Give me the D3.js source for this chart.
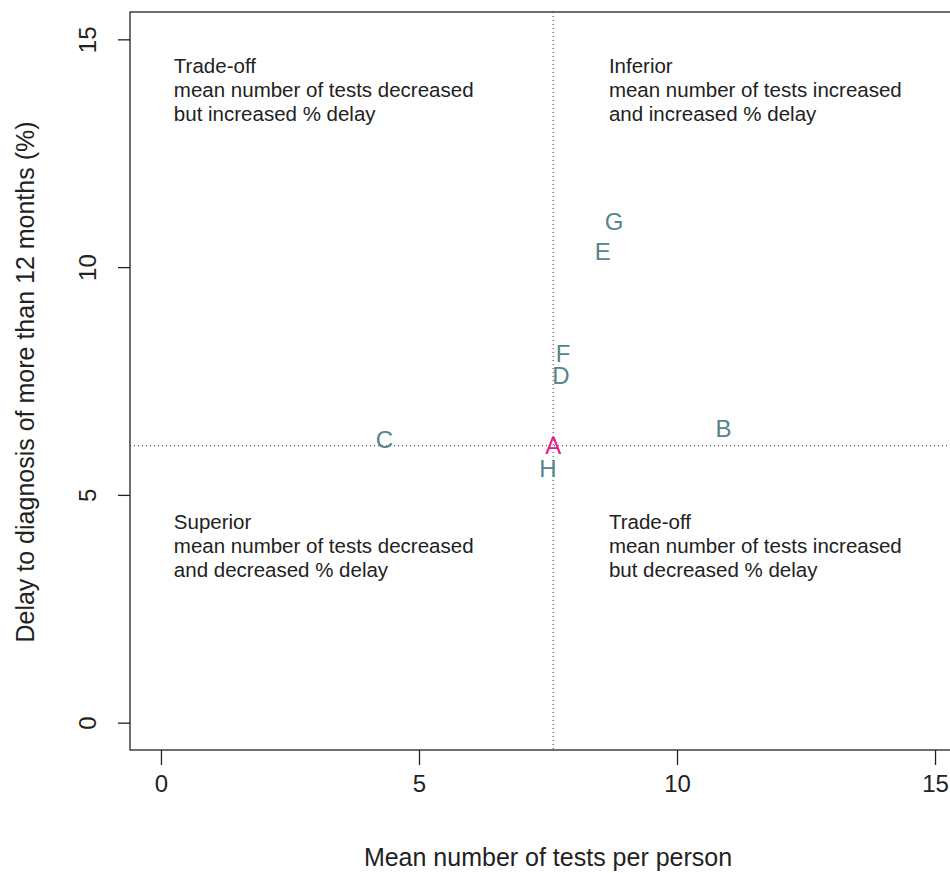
<!DOCTYPE html>
<html>
<head>
<meta charset="utf-8">
<script src="https://cdn.jsdelivr.net/npm/d3@7"></script>
<style>
 body { margin: 0; background: #fff; }
 text { font-family: "Liberation Sans", Arial, sans-serif; fill: #222; }
</style>
</head>
<body>
<svg width="950" height="873"></svg>
<script>
// The svg
var svg = d3.select("svg"),
    width = +svg.attr("width"),
    height = +svg.attr("height");

// Data
var labels = ["A", "B", "C", "D", "E", "F", "G", "H"];
var meanTests = [7.6, 10.9, 4.33, 7.75, 8.56, 7.79, 8.78, 7.5];
var delayPct = [6.08, 6.46, 6.21, 7.61, 10.35, 8.1, 11.0, 5.58];
var xTicks = [0, 5, 10, 15];
var yTicks = [0, 5, 10, 15];
var quadrants = [
  {x: 0.25, y: 14.27, lines: ["Trade-off", "mean number of tests decreased", "but increased % delay"]},
  {x: 8.68, y: 14.27, lines: ["Inferior", "mean number of tests increased", "and increased % delay"]},
  {x: 0.25, y: 4.25, lines: ["Superior", "mean number of tests decreased", "and decreased % delay"]},
  {x: 8.68, y: 4.25, lines: ["Trade-off", "mean number of tests increased", "but decreased % delay"]}
];

// plot region (R style, 4% padding)
var plotL = 130, plotR = 966, plotT = 12, plotB = 750;
var x = d3.scaleLinear().domain([-0.6, 15.6]).range([plotL, plotR]);
var y = d3.scaleLinear().domain([-0.6, 15.6]).range([plotB, plotT]);

// box
svg.append("rect")
  .attr("x", plotL).attr("y", plotT)
  .attr("width", plotR - plotL).attr("height", plotB - plotT)
  .attr("fill", "none").attr("stroke", "#222").attr("stroke-width", 1.3);

// reference lines through A
svg.append("line")
  .attr("x1", x(meanTests[0])).attr("x2", x(meanTests[0]))
  .attr("y1", plotT).attr("y2", plotB)
  .attr("stroke", "#333").attr("stroke-dasharray", "1,3");
svg.append("line")
  .attr("x1", plotL).attr("x2", plotR)
  .attr("y1", y(delayPct[0])).attr("y2", y(delayPct[0]))
  .attr("stroke", "#333").attr("stroke-dasharray", "1,3");

// axes
var xAxis = svg.append("g")
  .attr("transform", "translate(0," + plotB + ")")
  .call(d3.axisBottom(x).tickValues(xTicks).tickSize(15).tickPadding(10));
var yAxis = svg.append("g")
  .attr("transform", "translate(" + plotL + ",0)")
  .call(d3.axisLeft(y).tickValues(yTicks).tickSize(12));
[xAxis, yAxis].forEach(function(g) {
  g.select(".domain").remove();
  g.selectAll(".tick line").attr("stroke", "#222").attr("stroke-width", 1.3);
  g.selectAll(".tick text").style("font-size", "24px").attr("fill", "#222");
});
yAxis.selectAll(".tick text")
  .attr("x", null).attr("dy", null)
  .attr("text-anchor", "middle")
  .attr("transform", "translate(-40,0) rotate(-90)")
  .attr("dominant-baseline", "middle");

// axis titles
svg.append("text")
  .attr("x", 548).attr("y", 866)
  .attr("text-anchor", "middle")
  .style("font-size", "25px")
  .text("Mean number of tests per person");
svg.append("text")
  .attr("transform", "translate(34,382) rotate(-90)")
  .attr("text-anchor", "middle")
  .style("font-size", "25px")
  .text("Delay to diagnosis of more than 12 months (%)");

// quadrant notes
quadrants.forEach(function(q) {
  var t = svg.append("text")
    .attr("x", x(q.x)).attr("y", y(q.y))
    .style("font-size", "20.5px");
  q.lines.forEach(function(l, i) {
    t.append("tspan").attr("x", x(q.x)).attr("dy", i === 0 ? 0 : 24).text(l);
  });
});

// point labels
svg.selectAll(".pt")
  .data(labels)
  .enter().append("text")
  .attr("class", "pt")
  .attr("x", function(d, i) { return x(meanTests[i]); })
  .attr("y", function(d, i) { return y(delayPct[i]); })
  .attr("text-anchor", "middle")
  .attr("dominant-baseline", "central")
  .style("font-size", "24px")
  .style("fill", function(d) { return d === "A" ? "#e8168a" : "#53868b"; })
  .text(function(d) { return d; });
</script>
</body>
</html>
